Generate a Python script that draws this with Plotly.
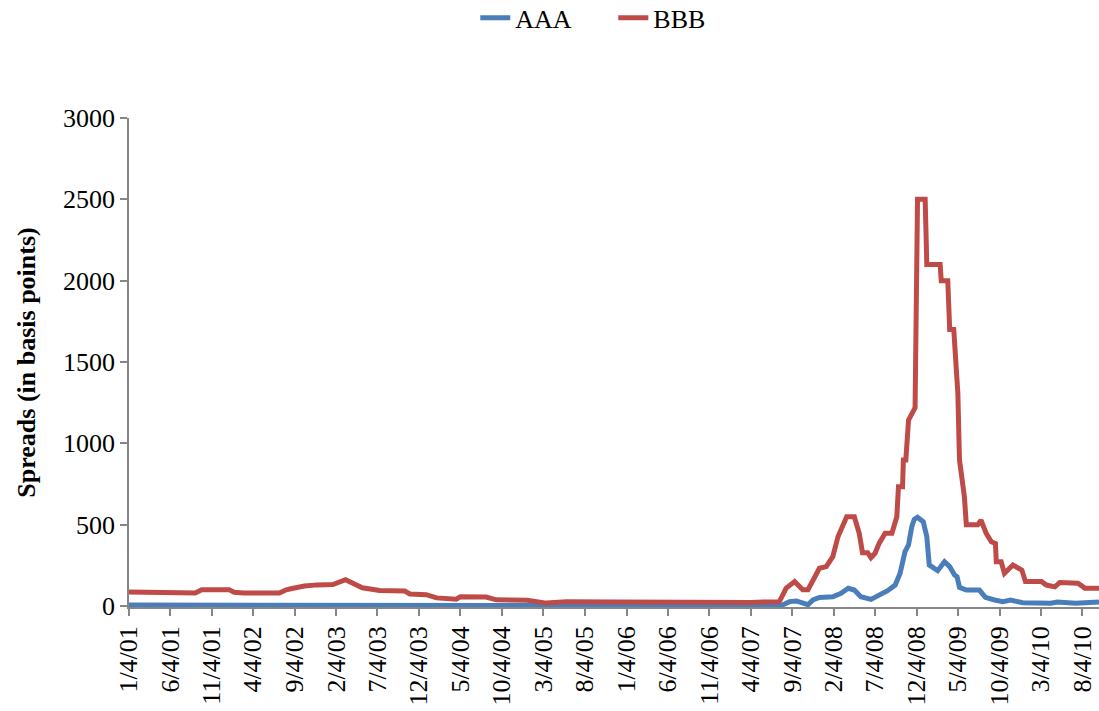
import plotly.graph_objects as go

# AAA spread series (basis points)
aaa_dates = [
    "2001-01-04", "2001-09-04", "2001-11-04", "2002-01-20", "2002-08-04", "2002-09-04",
    "2002-11-04", "2003-06-04", "2004-06-04", "2007-07-25", "2007-08-25", "2007-09-19",
    "2007-11-01", "2007-11-19", "2007-12-13", "2008-01-31", "2008-03-01", "2008-03-28",
    "2008-04-19", "2008-05-13", "2008-06-19", "2008-07-19", "2008-08-19", "2008-09-16",
    "2008-10-04", "2008-10-22", "2008-11-04", "2008-11-16", "2008-11-25", "2008-12-07",
    "2008-12-28", "2009-01-10", "2009-01-19", "2009-01-28", "2009-02-19", "2009-03-16",
    "2009-04-04", "2009-04-22", "2009-05-01", "2009-05-10", "2009-06-04", "2009-07-22",
    "2009-08-13", "2009-09-16", "2009-10-16", "2009-11-13", "2009-12-28", "2010-04-10",
    "2010-05-04", "2010-07-10", "2010-10-04",
]
aaa_values = [
    6, 5, 12, 5, 4, 9,
    5, 4, 2, 2, 27, 31,
    8, 37, 53, 57, 78, 109,
    98, 57, 41, 68, 94, 129,
    201, 334, 375, 488, 533, 545,
    518, 426, 252, 242, 217, 272,
    242, 191, 180, 115, 98, 98,
    53, 37, 27, 37, 20, 17,
    25, 17, 25,
]

# BBB spread series (basis points)
bbb_dates = [
    "2001-01-04", "2001-05-01", "2001-09-04", "2001-09-28", "2002-01-07", "2002-01-25",
    "2002-03-01", "2002-07-10", "2002-08-04", "2002-08-25", "2002-10-10", "2002-11-25",
    "2003-01-22", "2003-03-10", "2003-05-10", "2003-07-13", "2003-10-13", "2003-11-01",
    "2003-12-31", "2004-02-07", "2004-03-25", "2004-04-19", "2004-05-04", "2004-08-07",
    "2004-09-13", "2005-01-04", "2005-03-16", "2005-05-28", "2005-12-04", "2006-05-04",
    "2007-04-04", "2007-07-19", "2007-08-13", "2007-09-13", "2007-10-13", "2007-11-01",
    "2007-11-19", "2007-12-13", "2008-01-07", "2008-01-31", "2008-02-19", "2008-03-07",
    "2008-03-22", "2008-04-19", "2008-05-07", "2008-05-19", "2008-06-07", "2008-06-19",
    "2008-07-04", "2008-07-19", "2008-08-10", "2008-09-04", "2008-09-22", "2008-09-28",
    "2008-10-13", "2008-10-16", "2008-10-25", "2008-11-04", "2008-11-22", "2008-11-28",
    "2008-12-07", "2009-01-04", "2009-01-10", "2009-02-28", "2009-03-04", "2009-03-28",
    "2009-04-04", "2009-04-19", "2009-05-04", "2009-05-10", "2009-05-28", "2009-06-04",
    "2009-07-16", "2009-07-28", "2009-08-16", "2009-09-04", "2009-09-19", "2009-09-22",
    "2009-10-10", "2009-10-22", "2009-11-22", "2009-12-25", "2010-01-07", "2010-03-07",
    "2010-03-25", "2010-04-25", "2010-05-13", "2010-07-19", "2010-08-13", "2010-10-04",
]
bbb_values = [
    86, 85, 80, 100, 100, 85,
    80, 80, 100, 108, 123, 130,
    132, 162, 112, 95, 92, 74,
    70, 50, 45, 42, 57, 55,
    38, 35, 18, 27, 24, 22,
    22, 27, 110, 150, 100, 100,
    160, 232, 242, 303, 426, 488,
    549, 549, 447, 328, 328, 297,
    324, 385, 447, 447, 549, 733,
    733, 898, 898, 1143, 1195, 1220,
    2500, 2500, 2100, 2100, 2000, 2000,
    1700, 1700, 1308, 898, 672, 500,
    500, 527, 447, 395, 385, 272,
    272, 201, 252, 221, 150, 150,
    129, 118, 145, 140, 110, 110,
]

SERIF = "Liberation Serif, Times New Roman, serif"
AXIS_GREY = "#868686"

fig = go.Figure()
fig.add_trace(go.Scatter(x=aaa_dates, y=aaa_values, mode="lines", name="AAA",
                         line=dict(color="#4A7EBB", width=5)))
fig.add_trace(go.Scatter(x=bbb_dates, y=bbb_values, mode="lines", name="BBB",
                         line=dict(color="#BE4B48", width=5)))

fig.update_layout(
    width=1099, height=711,
    margin=dict(l=129, r=0, t=118, b=104),
    paper_bgcolor="white", plot_bgcolor="white",
    font=dict(family=SERIF, size=26, color="black"),
    showlegend=True,
    legend=dict(orientation="h", xref="paper", x=0.357, xanchor="left",
                yref="container", y=0.975, yanchor="middle",
                font=dict(family=SERIF, size=26, color="black"),
                bgcolor="rgba(0,0,0,0)", itemwidth=30,
                entrywidth=93, entrywidthmode="pixels"),
    xaxis=dict(
        type="date",
        range=["2001-01-04", "2010-10-04"],
        tick0="2001-01-04", dtick="M5", tickformat="%-m/%-d/%y",
        tickangle=-90, ticks="outside", ticklen=7, tickwidth=1.5, tickcolor=AXIS_GREY,
        showline=True, linecolor=AXIS_GREY, linewidth=1.5,
        showgrid=False, zeroline=False, layer="below traces",
        tickfont=dict(family=SERIF, size=26, color="black"),
    ),
    yaxis=dict(
        range=[-6, 3000], dtick=500, tick0=0,
        ticks="outside", ticklen=7, tickwidth=1.5, tickcolor=AXIS_GREY,
        showline=True, linecolor=AXIS_GREY, linewidth=1.5,
        showgrid=False, zeroline=False, layer="below traces",
        tickfont=dict(family=SERIF, size=26, color="black"),
        title=dict(text="<b>Spreads (in basis points)</b>", standoff=20,
                   font=dict(family=SERIF, size=26, color="black")),
    ),
)

fig.write_html("out.html")
